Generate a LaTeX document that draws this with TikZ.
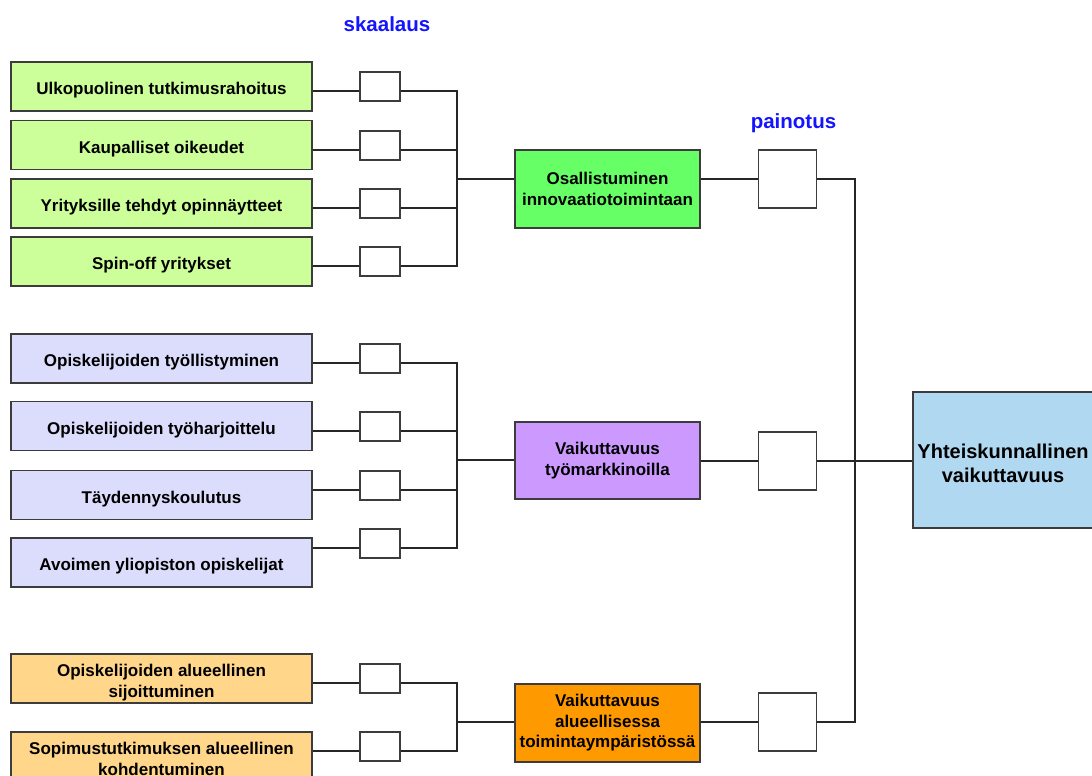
\documentclass[tikz,border=0pt]{standalone}
\usepackage{fontspec}
\setmainfont{Liberation Sans}
\definecolor{lgreen}{HTML}{CCFF99}
\definecolor{dgreen}{HTML}{66FF66}
\definecolor{lav}{HTML}{DCDCFC}
\definecolor{purp}{HTML}{CC99FF}
\definecolor{lorange}{HTML}{FFD68A}
\definecolor{dorange}{HTML}{FF9900}
\definecolor{lblue}{HTML}{B0D8F0}
\definecolor{bord}{HTML}{3C3C3C}
\definecolor{lblblue}{HTML}{1414FF}
\begin{document}
\begin{tikzpicture}[x=1pt,y=-1pt,
  txt/.style={font=\bfseries\fontsize{17}{20.5}\selectfont, align=center, text=black},
  lbox/.style={txt, draw=bord, line width=1.4pt, minimum width=301pt, minimum height=49pt, inner sep=0pt,
    text height=16.5pt, text depth=0pt},
  lbox2/.style={lbox, text height=37pt, text depth=0pt},
  sbox/.style={draw=bord, line width=1.4pt, fill=white, minimum width=40pt, minimum height=29pt, inner sep=0pt},
  mbox/.style={txt, draw=bord, line width=1.4pt, minimum width=185pt, minimum height=78pt, inner sep=0pt},
  pbox/.style={draw=bord, line width=1.4pt, fill=white, minimum width=58pt, minimum height=58pt, inner sep=0pt},
  conn/.style={draw=black!85, line width=1.3pt},
  lbl/.style={font=\bfseries\fontsize{20.5}{24}\selectfont, text=lblblue, inner sep=0pt}]
\useasboundingbox (0,0) rectangle (1092,776);
\fill[white] (0,0) rectangle (1092,776);

% labels
\node[lbl, anchor=base] (sk) at (387,32) {skaalaus};
\node[lbl, anchor=base] (pa) at (793.5,128) {painotus};

% junctions
\coordinate (jg) at (457,179);
\coordinate (jv) at (457,460);
\coordinate (jo) at (457,722);
\coordinate (jr) at (855,460);

% left boxes
\node[lbox, fill=lgreen] (g1) at (161.5,86.5) {Ulkopuolinen tutkimusrahoitus};
\node[lbox, fill=lgreen] (g2) at (161.5,145) {Kaupalliset oikeudet};
\node[lbox, fill=lgreen] (g3) at (161.5,203.5) {Yrityksille tehdyt opinnäytteet};
\node[lbox, fill=lgreen] (g4) at (161.5,261.5) {Spin-off yritykset};
\node[lbox, fill=lav] (v1) at (161.5,358.5) {Opiskelijoiden työllistyminen};
\node[lbox, fill=lav] (v2) at (161.5,426) {Opiskelijoiden työharjoittelu};
\node[lbox, fill=lav] (v3) at (161.5,495) {Täydennyskoulutus};
\node[lbox, fill=lav] (v4) at (161.5,562.5) {Avoimen yliopiston opiskelijat};
\node[lbox2, fill=lorange] (o1) at (161.5,678.5) {Opiskelijoiden alueellinen\\sijoittuminen};
\node[lbox2, fill=lorange] (o2) at (161.5,756.5) {Sopimustutkimuksen alueellinen\\kohdentuminen};

% small boxes (skaalaus)
\node[sbox] (gs1) at (380,86.5) {};
\node[sbox] (gs2) at (380,145.5) {};
\node[sbox] (gs3) at (380,203.5) {};
\node[sbox] (gs4) at (380,261.5) {};
\node[sbox] (vs1) at (380,358.5) {};
\node[sbox] (vs2) at (380,426.5) {};
\node[sbox] (vs3) at (380,485.5) {};
\node[sbox] (vs4) at (380,543.5) {};
\node[sbox] (os1) at (380,678.5) {};
\node[sbox] (os2) at (380,746.5) {};

% middle boxes
\node[mbox, fill=dgreen] (m1) at (607.5,189) {Osallistuminen\\innovaatiotoimintaan};
\node[mbox, fill=purp, minimum height=77pt] (m2) at (607.5,460.5) {Vaikuttavuus\\työmarkkinoilla};
\node[mbox, fill=dorange] (m3) at (607.5,723) {Vaikuttavuus\\alueellisessa\\toimintaympäristössä};

% painotus boxes
\node[pbox] (p1) at (787.5,179) {};
\node[pbox] (p2) at (787.5,461) {};
\node[pbox] (p3) at (787.5,722) {};

% result box
\node[txt, draw=bord, line width=1.4pt, fill=lblue, minimum width=180pt, minimum height=136pt, inner sep=0pt,
  font=\bfseries\fontsize{20}{23.5}\selectfont, text height=44pt, text depth=0pt] (Y) at (1003,460) {Yhteiskunnallinen\\vaikuttavuus};

% connectors: left boxes to skaalaus boxes, and brackets
\foreach \a/\b/\j in {g1/gs1/jg, g2/gs2/jg, g3/gs3/jg, g4/gs4/jg,
                      v1/vs1/jv, v2/vs2/jv, v3/vs3/jv, v4/vs4/jv,
                      o1/os1/jo, o2/os2/jo}{
  \draw[conn] ([yshift=-4.5pt]\b.west) -- ([yshift=-4.5pt]\b.west -| \a.east);
  \draw[conn] ([yshift=-4.5pt]\b.east) -| (\j);
}
\draw[conn] (jg) -- (jg -| m1.west);
\draw[conn] (jv) -- (jv -| m2.west);
\draw[conn] (jo) -- (jo -| m3.west);

% middle to painotus
\draw[conn] (p1.west -| m1.east) -- (p1.west);
\draw[conn] (p2.west -| m2.east) -- (p2.west);
\draw[conn] (p3.west -| m3.east) -- (p3.west);

% painotus to result
\draw[conn] (p1.east) -| (jr);
\draw[conn] (p3.east) -| (jr);
\draw[conn] (p2.east) -- (p2.east -| Y.west);
\end{tikzpicture}
\end{document}
